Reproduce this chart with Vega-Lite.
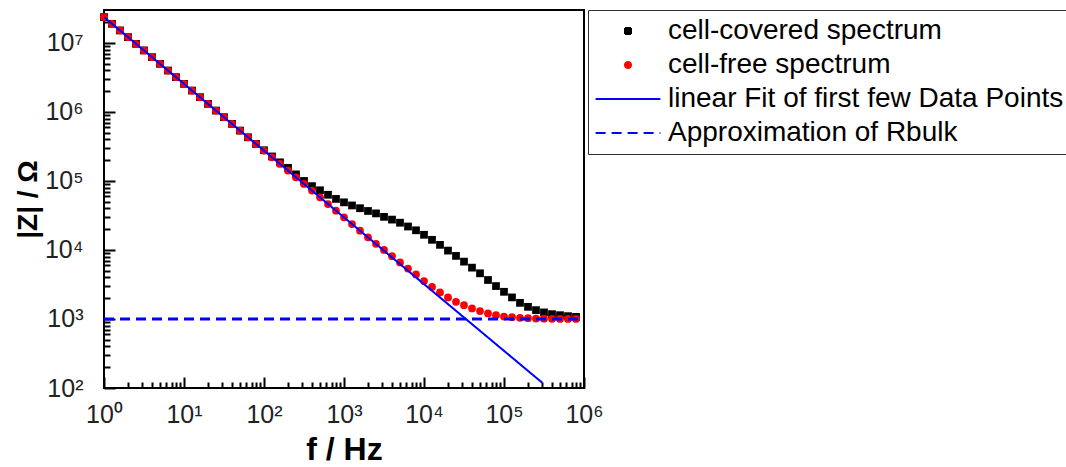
{
  "$schema": "https://vega.github.io/schema/vega-lite/v6.json",
  "autosize": {"type": "none"},
  "padding": {"left": 104, "top": 10, "right": 482, "bottom": 79},
  "width": 480,
  "height": 378,
  "background": "white",
  "config": {
    "font": "Liberation Sans",
    "view": {"stroke": "black", "strokeWidth": 2},
    "axis": {
      "grid": false,
      "domain": false,
      "labelFont": "Liberation Sans",
      "labelFontSize": 25,
      "labelColor": "#222222",
      "tickColor": "black",
      "tickWidth": 2,
      "titleFont": "Liberation Sans",
      "titleColor": "black",
      "titleFontWeight": "bold",
      "labelFlush": false,
      "labelOverlap": false,
      "labelBound": false
    }
  },
  "datasets": {
    "pts": [
      {"f": 1, "Z": 23660000, "s": "cell-covered spectrum"},
      {"f": 1.2589, "Z": 18920000, "s": "cell-covered spectrum"},
      {"f": 1.5849, "Z": 15170000, "s": "cell-covered spectrum"},
      {"f": 1.9953, "Z": 12130000, "s": "cell-covered spectrum"},
      {"f": 2.5119, "Z": 9705000, "s": "cell-covered spectrum"},
      {"f": 3.1623, "Z": 7780000, "s": "cell-covered spectrum"},
      {"f": 3.9811, "Z": 6223000, "s": "cell-covered spectrum"},
      {"f": 5.0119, "Z": 4977000, "s": "cell-covered spectrum"},
      {"f": 6.3096, "Z": 3981000, "s": "cell-covered spectrum"},
      {"f": 7.9433, "Z": 3192000, "s": "cell-covered spectrum"},
      {"f": 10, "Z": 2553000, "s": "cell-covered spectrum"},
      {"f": 12.589, "Z": 2042000, "s": "cell-covered spectrum"},
      {"f": 15.849, "Z": 1637000, "s": "cell-covered spectrum"},
      {"f": 19.953, "Z": 1309000, "s": "cell-covered spectrum"},
      {"f": 25.119, "Z": 1047000, "s": "cell-covered spectrum"},
      {"f": 31.623, "Z": 839500, "s": "cell-covered spectrum"},
      {"f": 39.811, "Z": 671400, "s": "cell-covered spectrum"},
      {"f": 50.119, "Z": 537000, "s": "cell-covered spectrum"},
      {"f": 63.096, "Z": 429500, "s": "cell-covered spectrum"},
      {"f": 79.433, "Z": 344300, "s": "cell-covered spectrum"},
      {"f": 100, "Z": 278600, "s": "cell-covered spectrum"},
      {"f": 125.89, "Z": 226500, "s": "cell-covered spectrum"},
      {"f": 158.49, "Z": 186200, "s": "cell-covered spectrum"},
      {"f": 199.53, "Z": 154900, "s": "cell-covered spectrum"},
      {"f": 251.19, "Z": 124500, "s": "cell-covered spectrum"},
      {"f": 316.23, "Z": 100000, "s": "cell-covered spectrum"},
      {"f": 398.11, "Z": 84140, "s": "cell-covered spectrum"},
      {"f": 501.19, "Z": 73280, "s": "cell-covered spectrum"},
      {"f": 630.96, "Z": 63100, "s": "cell-covered spectrum"},
      {"f": 794.33, "Z": 54950, "s": "cell-covered spectrum"},
      {"f": 1000, "Z": 48980, "s": "cell-covered spectrum"},
      {"f": 1258.9, "Z": 44160, "s": "cell-covered spectrum"},
      {"f": 1584.9, "Z": 40270, "s": "cell-covered spectrum"},
      {"f": 1995.3, "Z": 36730, "s": "cell-covered spectrum"},
      {"f": 2511.9, "Z": 33880, "s": "cell-covered spectrum"},
      {"f": 3162.3, "Z": 30200, "s": "cell-covered spectrum"},
      {"f": 3981.1, "Z": 27540, "s": "cell-covered spectrum"},
      {"f": 5011.9, "Z": 24830, "s": "cell-covered spectrum"},
      {"f": 6309.6, "Z": 21880, "s": "cell-covered spectrum"},
      {"f": 7943.3, "Z": 19280, "s": "cell-covered spectrum"},
      {"f": 10000, "Z": 16600, "s": "cell-covered spectrum"},
      {"f": 12589, "Z": 14030, "s": "cell-covered spectrum"},
      {"f": 15849, "Z": 11860, "s": "cell-covered spectrum"},
      {"f": 19953, "Z": 9795, "s": "cell-covered spectrum"},
      {"f": 25119, "Z": 8204, "s": "cell-covered spectrum"},
      {"f": 31623, "Z": 6776, "s": "cell-covered spectrum"},
      {"f": 39811, "Z": 5546, "s": "cell-covered spectrum"},
      {"f": 50119, "Z": 4592, "s": "cell-covered spectrum"},
      {"f": 63096, "Z": 3673, "s": "cell-covered spectrum"},
      {"f": 79433, "Z": 2999, "s": "cell-covered spectrum"},
      {"f": 100000, "Z": 2477, "s": "cell-covered spectrum"},
      {"f": 125890, "Z": 2056, "s": "cell-covered spectrum"},
      {"f": 158490, "Z": 1714, "s": "cell-covered spectrum"},
      {"f": 199530, "Z": 1500, "s": "cell-covered spectrum"},
      {"f": 251190, "Z": 1343, "s": "cell-covered spectrum"},
      {"f": 316230, "Z": 1245, "s": "cell-covered spectrum"},
      {"f": 398110, "Z": 1175, "s": "cell-covered spectrum"},
      {"f": 501190, "Z": 1135, "s": "cell-covered spectrum"},
      {"f": 630960, "Z": 1099, "s": "cell-covered spectrum"},
      {"f": 794330, "Z": 1074, "s": "cell-covered spectrum"},
      {"f": 1, "Z": 23660000, "s": "cell-free spectrum"},
      {"f": 1.2589, "Z": 18920000, "s": "cell-free spectrum"},
      {"f": 1.5849, "Z": 15170000, "s": "cell-free spectrum"},
      {"f": 1.9953, "Z": 12130000, "s": "cell-free spectrum"},
      {"f": 2.5119, "Z": 9705000, "s": "cell-free spectrum"},
      {"f": 3.1623, "Z": 7780000, "s": "cell-free spectrum"},
      {"f": 3.9811, "Z": 6223000, "s": "cell-free spectrum"},
      {"f": 5.0119, "Z": 4977000, "s": "cell-free spectrum"},
      {"f": 6.3096, "Z": 3981000, "s": "cell-free spectrum"},
      {"f": 7.9433, "Z": 3192000, "s": "cell-free spectrum"},
      {"f": 10, "Z": 2553000, "s": "cell-free spectrum"},
      {"f": 12.589, "Z": 2042000, "s": "cell-free spectrum"},
      {"f": 15.849, "Z": 1637000, "s": "cell-free spectrum"},
      {"f": 19.953, "Z": 1309000, "s": "cell-free spectrum"},
      {"f": 25.119, "Z": 1047000, "s": "cell-free spectrum"},
      {"f": 31.623, "Z": 839500, "s": "cell-free spectrum"},
      {"f": 39.811, "Z": 671400, "s": "cell-free spectrum"},
      {"f": 50.119, "Z": 537000, "s": "cell-free spectrum"},
      {"f": 63.096, "Z": 429500, "s": "cell-free spectrum"},
      {"f": 79.433, "Z": 344300, "s": "cell-free spectrum"},
      {"f": 100, "Z": 275400, "s": "cell-free spectrum"},
      {"f": 125.89, "Z": 220300, "s": "cell-free spectrum"},
      {"f": 158.49, "Z": 176600, "s": "cell-free spectrum"},
      {"f": 199.53, "Z": 141300, "s": "cell-free spectrum"},
      {"f": 251.19, "Z": 113000, "s": "cell-free spectrum"},
      {"f": 316.23, "Z": 90570, "s": "cell-free spectrum"},
      {"f": 398.11, "Z": 72440, "s": "cell-free spectrum"},
      {"f": 501.19, "Z": 57940, "s": "cell-free spectrum"},
      {"f": 630.96, "Z": 46340, "s": "cell-free spectrum"},
      {"f": 794.33, "Z": 37150, "s": "cell-free spectrum"},
      {"f": 1000, "Z": 29720, "s": "cell-free spectrum"},
      {"f": 1258.9, "Z": 23770, "s": "cell-free spectrum"},
      {"f": 1584.9, "Z": 19050, "s": "cell-free spectrum"},
      {"f": 1995.3, "Z": 15240, "s": "cell-free spectrum"},
      {"f": 2511.9, "Z": 12300, "s": "cell-free spectrum"},
      {"f": 3162.3, "Z": 10000, "s": "cell-free spectrum"},
      {"f": 3981.1, "Z": 8128, "s": "cell-free spectrum"},
      {"f": 5011.9, "Z": 6607, "s": "cell-free spectrum"},
      {"f": 6309.6, "Z": 5370, "s": "cell-free spectrum"},
      {"f": 7943.3, "Z": 4416, "s": "cell-free spectrum"},
      {"f": 10000, "Z": 3548, "s": "cell-free spectrum"},
      {"f": 12589, "Z": 2917, "s": "cell-free spectrum"},
      {"f": 15849, "Z": 2427, "s": "cell-free spectrum"},
      {"f": 19953, "Z": 2056, "s": "cell-free spectrum"},
      {"f": 25119, "Z": 1774, "s": "cell-free spectrum"},
      {"f": 31623, "Z": 1585, "s": "cell-free spectrum"},
      {"f": 39811, "Z": 1422, "s": "cell-free spectrum"},
      {"f": 50119, "Z": 1300, "s": "cell-free spectrum"},
      {"f": 63096, "Z": 1202, "s": "cell-free spectrum"},
      {"f": 79433, "Z": 1135, "s": "cell-free spectrum"},
      {"f": 100000, "Z": 1086, "s": "cell-free spectrum"},
      {"f": 125890, "Z": 1062, "s": "cell-free spectrum"},
      {"f": 158490, "Z": 1038, "s": "cell-free spectrum"},
      {"f": 199530, "Z": 1028, "s": "cell-free spectrum"},
      {"f": 251190, "Z": 1016, "s": "cell-free spectrum"},
      {"f": 316230, "Z": 1009, "s": "cell-free spectrum"},
      {"f": 398110, "Z": 1005, "s": "cell-free spectrum"},
      {"f": 501190, "Z": 1003, "s": "cell-free spectrum"},
      {"f": 630960, "Z": 1001, "s": "cell-free spectrum"},
      {"f": 794330, "Z": 1000, "s": "cell-free spectrum"}
    ],
    "fit": [
      {"f": 1, "Z": 23660000, "s": "linear Fit of first few Data Points"},
      {"f": 301000, "Z": 119, "s": "linear Fit of first few Data Points"}
    ],
    "bulk": [
      {"f": 1, "Z": 1000, "s": "Approximation of Rbulk"},
      {"f": 1000000, "Z": 1000, "s": "Approximation of Rbulk"}
    ]
  },
  "encoding": {
    "x": {
      "field": "f",
      "type": "quantitative",
      "scale": {"type": "log", "domain": [1, 1000000], "nice": false},
      "axis": {
        "title": "f / Hz",
        "titleFontSize": 32,
        "titlePadding": 2,
        "values": [1,2,3,4,5,6,7,8,9,10,20,30,40,50,60,70,80,90,100,200,300,400,500,600,700,800,900,1000,2000,3000,4000,5000,6000,7000,8000,9000,10000,20000,30000,40000,50000,60000,70000,80000,90000,100000,200000,300000,400000,500000,600000,700000,800000,900000,1000000],
        "labelExpr": "abs(log(datum.value)/LN10 - round(log(datum.value)/LN10)) < 0.001 ? '10' + ['⁰','¹','²','³','⁴','⁵','⁶','⁷'][round(log(datum.value)/LN10)] : ''",
        "tickSize": {"condition": {"test": "abs(log(datum.value)/LN10 - round(log(datum.value)/LN10)) < 0.001", "value": -11}, "value": -6},
        "labelPadding": 25
      }
    },
    "y": {
      "field": "Z",
      "type": "quantitative",
      "scale": {"type": "log", "domain": [100, 30000000], "nice": false},
      "axis": {
        "title": "|Z| / Ω",
        "titleFontSize": 28,
        "titlePadding": 2,
        "values": [100,200,300,400,500,600,700,800,900,1000,2000,3000,4000,5000,6000,7000,8000,9000,10000,20000,30000,40000,50000,60000,70000,80000,90000,100000,200000,300000,400000,500000,600000,700000,800000,900000,1000000,2000000,3000000,4000000,5000000,6000000,7000000,8000000,9000000,10000000,20000000],
        "labelExpr": "abs(log(datum.value)/LN10 - round(log(datum.value)/LN10)) < 0.001 ? '10' + ['⁰','¹','²','³','⁴','⁵','⁶','⁷'][round(log(datum.value)/LN10)] : ''",
        "tickSize": {"condition": {"test": "abs(log(datum.value)/LN10 - round(log(datum.value)/LN10)) < 0.001", "value": -11}, "value": -6},
        "labelPadding": 32
      }
    },
    "color": {
      "field": "s",
      "type": "nominal",
      "scale": {
        "domain": ["cell-covered spectrum", "cell-free spectrum", "linear Fit of first few Data Points", "Approximation of Rbulk"],
        "range": ["#000000", "#ff0000", "#0000ff", "#0000ff"]
      },
      "legend": {
        "orient": "none",
        "legendX": 484,
        "legendY": 0,
        "title": null,
        "labelFont": "Liberation Sans",
        "labelFontSize": 28,
        "labelColor": "black",
        "labelLimit": 1000,
        "strokeColor": "#333333",
        "fillColor": "white",
        "padding": 7,
        "rowPadding": 6,
        "symbolSize": 36,
        "symbolOffset": 19,
        "labelOffset": 26,
        "encode": {
          "symbols": {
            "update": {
              "stroke": {"scale": "color", "field": "value"},
              "strokeWidth": {"value": 2},
              "strokeDash": {"signal": "datum.value === 'Approximation of Rbulk' ? [7,4] : [1,0]"}
            }
          }
        }
      }
    }
  },
  "layer": [
    {
      "data": {"name": "pts"},
      "mark": {"type": "point", "filled": true, "size": 60, "opacity": 1},
      "encoding": {
        "shape": {
          "field": "s",
          "type": "nominal",
          "scale": {
            "domain": ["cell-covered spectrum", "cell-free spectrum", "linear Fit of first few Data Points", "Approximation of Rbulk"],
            "range": ["square", "circle", "M-10.8,0H10.8", "M-10.8,0H10.8"]
          }
        }
      }
    },
    {
      "data": {"name": "fit"},
      "mark": {"type": "line", "strokeWidth": 2, "clip": true},
      "encoding": {
        "strokeDash": {
          "field": "s",
          "type": "nominal",
          "scale": {
            "domain": ["cell-covered spectrum", "cell-free spectrum", "linear Fit of first few Data Points", "Approximation of Rbulk"],
            "range": [[1, 0], [1, 0], [1, 0], [10, 6]]
          }
        }
      }
    },
    {
      "data": {"name": "bulk"},
      "mark": {"type": "line", "strokeWidth": 3, "clip": true},
      "encoding": {
        "strokeDash": {
          "field": "s",
          "type": "nominal",
          "scale": {
            "domain": ["cell-covered spectrum", "cell-free spectrum", "linear Fit of first few Data Points", "Approximation of Rbulk"],
            "range": [[1, 0], [1, 0], [1, 0], [10, 6]]
          }
        }
      }
    }
  ]
}
